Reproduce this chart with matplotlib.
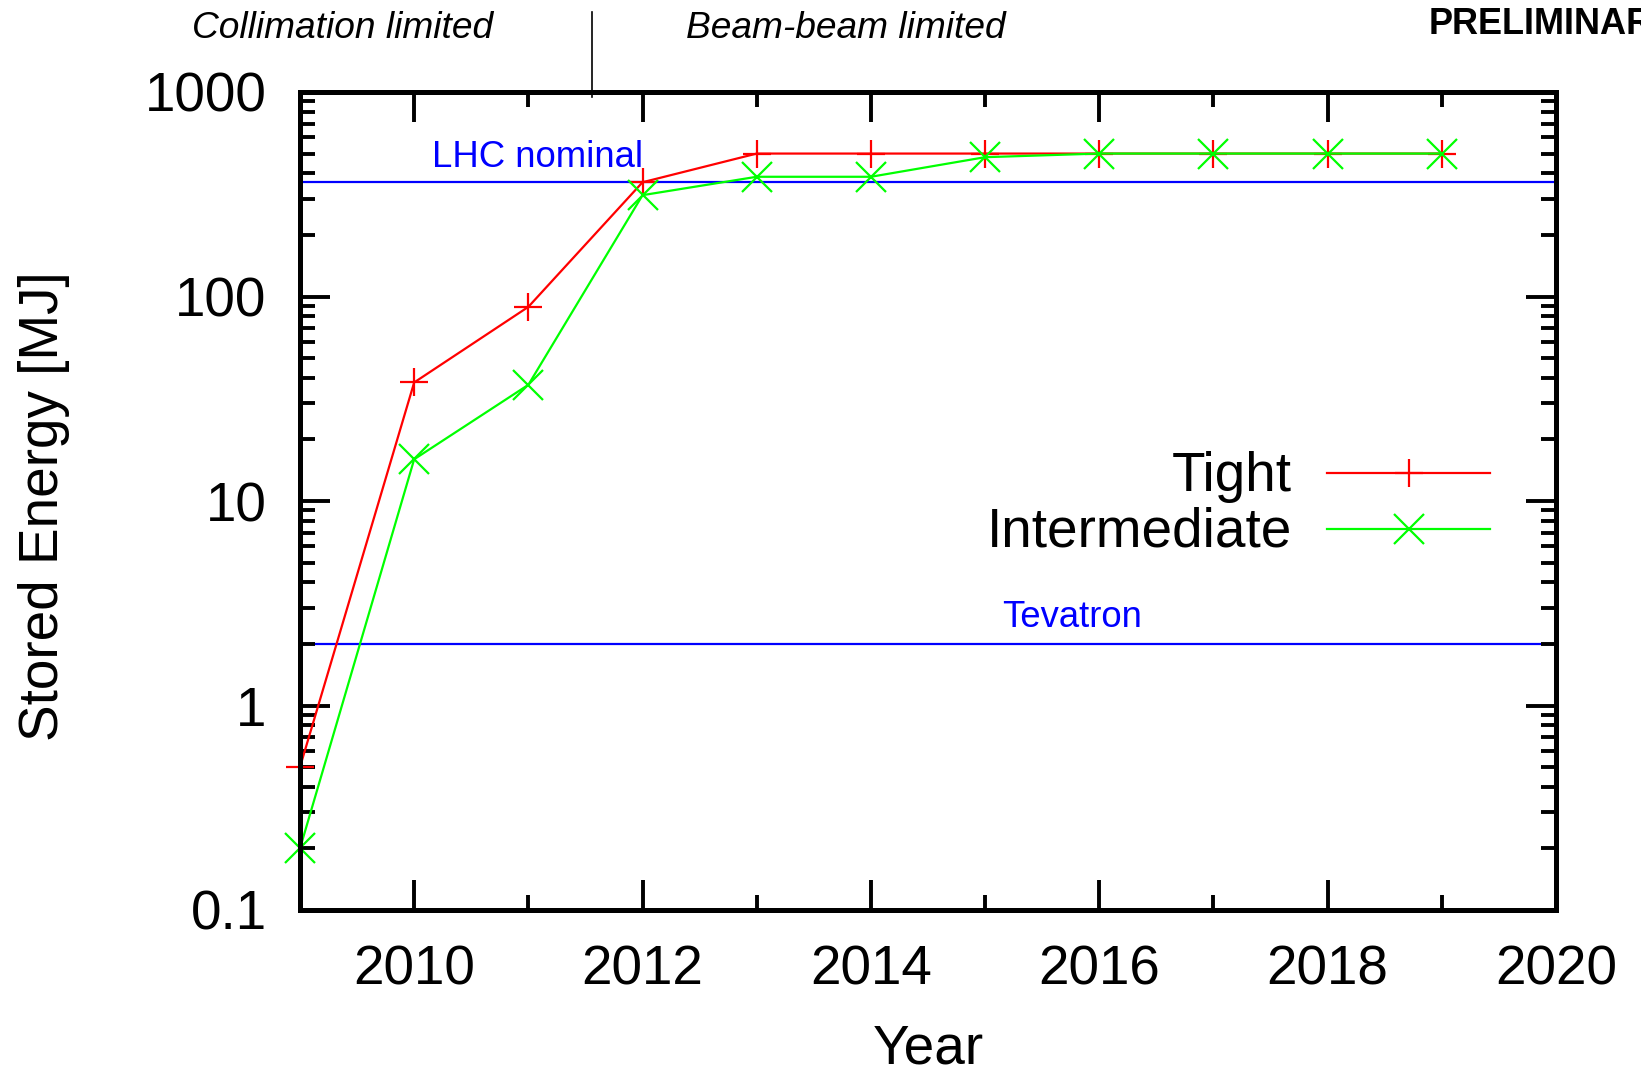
import matplotlib
matplotlib.use("Agg")
import matplotlib.pyplot as plt
from matplotlib.lines import Line2D
from matplotlib.ticker import FixedLocator, LogLocator, NullFormatter, FixedFormatter
import matplotlib.transforms as mtransforms

plt.rcParams['font.family'] = ['Liberation Sans', 'DejaVu Sans']

# Stored beam energy projections per year
years = [2009, 2010, 2011, 2012, 2013, 2014, 2015, 2016, 2017, 2018, 2019]
tight = [0.5, 38, 89, 362, 500, 500, 500, 500, 500, 500, 500]
intermediate = [0.2, 16, 37, 313, 385, 385, 480, 500, 500, 500, 500]

# Reference levels
lhc_nominal = 362
tevatron = 2.0

# Axis ticks
x_major = [2010, 2012, 2014, 2016, 2018, 2020]
x_minor = [2011, 2013, 2015, 2017, 2019]
y_major = [0.1, 1, 10, 100, 1000]
y_labels = ['0.1', '1', '10', '100', '1000']

# Boundary between the two regimes
regime_split = 2011.56

RED = '#ff0000'
GREEN = '#00ff00'
BLUE = '#0000ff'

fig = plt.figure(figsize=(16.41, 10.73), dpi=100)
W, H = 1641, 1073
left, right, top, bottom = 300, 1556, 92, 910
ax = fig.add_axes([left / W, 1 - bottom / H, (right - left) / W, (bottom - top) / H])

ax.set_yscale('log')
ax.set_xlim(2009, 2020)
ax.set_ylim(0.1, 1000)

# Reference lines
ax.axhline(lhc_nominal, color=BLUE, lw=1.6, zorder=1)
ax.axhline(tevatron, color=BLUE, lw=1.6, zorder=1)
ax.text(2010.16, 430, 'LHC nominal', color=BLUE, fontsize=26.3, ha='left', va='baseline')
ax.text(2015.15, 2.42, 'Tevatron', color=BLUE, fontsize=26.3, ha='left', va='baseline')

# Data series
ax.plot(years, tight, color=RED, lw=1.6, marker='+', ms=20, mew=1.6,
        clip_on=False, zorder=3)
ax.plot(years, intermediate, color=GREEN, lw=1.6, marker='x', ms=21, mew=1.6,
        clip_on=False, zorder=4)

# Ticks
ax.xaxis.set_major_locator(FixedLocator(x_major))
ax.xaxis.set_minor_locator(FixedLocator(x_minor))
ax.yaxis.set_major_locator(FixedLocator(y_major))
ax.yaxis.set_major_formatter(FixedFormatter(y_labels))
ax.yaxis.set_minor_locator(LogLocator(base=10, subs=range(2, 10)))
ax.yaxis.set_minor_formatter(NullFormatter())

ax.tick_params(which='both', direction='in', top=True, right=True, width=2.8,
               color='black')
ax.tick_params(which='major', length=21.5, labelsize=39.5)
ax.tick_params(which='minor', length=10.8)
ax.tick_params(axis='x', which='major', pad=25)
ax.tick_params(axis='y', which='major', pad=24)
for sp in ax.spines.values():
    sp.set_linewidth(3.6)
    sp.set_zorder(5)

ax.set_xlabel('Year', fontsize=39.5, va='center')
ax.xaxis.set_label_coords(0.5, -0.171)
ax.set_ylabel('Stored Energy [MJ]', fontsize=39.5, va='center')
ax.yaxis.set_label_coords(-0.204, 0.494)

# Legend, text to the left of the sample
lx0, lx1, lxm = 0.8177, 0.9475, 0.8830
rows = [('Tight', RED, '+', 20, 0.534), ('Intermediate', GREEN, 'x', 21, 0.466)]
for label, col, mk, ms, ly in rows:
    ax.add_line(Line2D([lx0, lx1], [ly, ly], color=col, lw=1.6,
                       transform=ax.transAxes, zorder=4))
    ax.add_line(Line2D([lxm], [ly], color=col, marker=mk, ms=ms, mew=1.6,
                       ls='none', transform=ax.transAxes, zorder=4))
    ax.text(0.790, ly - 0.005, label, fontsize=39.5, ha='right', va='center',
            transform=ax.transAxes)

# Regime separator and headings above the plot
trans = mtransforms.blended_transform_factory(ax.transData, ax.transAxes)
ax.add_line(Line2D([regime_split, regime_split], [0.994, 1.098], color='black',
                   lw=1.2, transform=trans, clip_on=False))
fig.text(343 / W, 1 - 29 / H, 'Collimation limited', fontsize=26.7, style='italic',
         ha='center', va='center')
fig.text(845.5 / W, 1 - 29 / H, 'Beam-beam limited', fontsize=26.7, style='italic',
         ha='center', va='center')
fig.text(1429 / W, 1 - 25 / H, 'PRELIMINARY', fontsize=26, fontweight='bold',
         ha='left', va='center')

fig.savefig('out.png', dpi=100)
